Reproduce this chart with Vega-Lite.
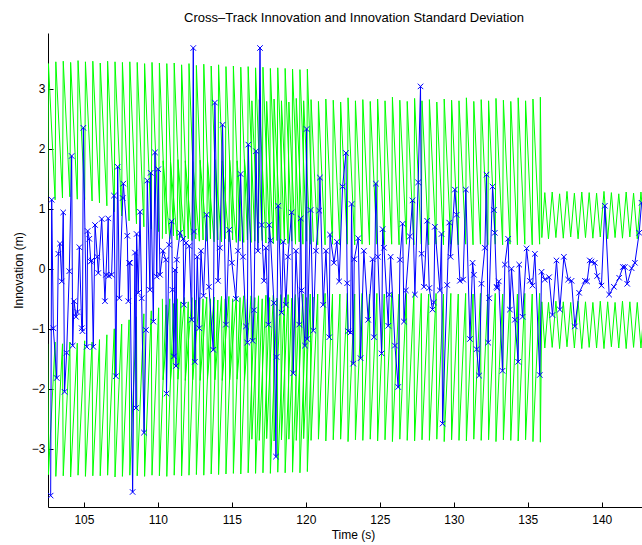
{
"$schema":"https://vega.github.io/schema/vega-lite/v6.json",
"width":594,"height":474,"autosize":"none",
"padding":{"left":48,"top":33,"right":0,"bottom":38},
"background":"white",
"title":{"text":"Cross–Track Innovation and Innovation Standard Deviation","font":"Liberation Sans","fontSize":13,"fontWeight":"normal","color":"black","anchor":"middle","frame":"group","baseline":"alphabetic","offset":11,"dx":9,"dy":13},
"config":{"view":{"stroke":null},"axis":{"grid":false,"domainColor":"black","tickColor":"black","labelColor":"black","titleColor":"black","labelFont":"Liberation Sans","titleFont":"Liberation Sans","labelFontSize":12,"titleFontSize":12,"titleFontWeight":"normal","tickSize":-5,"domainWidth":1,"tickWidth":1}},
"datasets":{
"g":[
{"t":102.55,"s":"A","u":1.2,"l":-1.25},{"t":102.6,"s":"A","u":3.42,"l":-3.43},
{"t":103.05,"s":"A","u":1.15,"l":-1.22},{"t":103.1,"s":"A","u":3.45,"l":-3.46},
{"t":103.55,"s":"A","u":1.18,"l":-1.25},{"t":103.6,"s":"A","u":3.46,"l":-3.45},
{"t":104.05,"s":"A","u":1.2,"l":-1.22},{"t":104.1,"s":"A","u":3.44,"l":-3.47},
{"t":104.55,"s":"A","u":1.16,"l":-1.24},{"t":104.6,"s":"A","u":3.47,"l":-3.44},
{"t":105.05,"s":"A","u":1.15,"l":-1.2},{"t":105.1,"s":"A","u":3.45,"l":-3.46},
{"t":105.55,"s":"A","u":1.13,"l":-1.22},{"t":105.6,"s":"A","u":3.46,"l":-3.45},
{"t":106.05,"s":"A","u":1.1,"l":-1.18},{"t":106.1,"s":"A","u":3.43,"l":-3.45},
{"t":106.55,"s":"A","u":1.05,"l":-1.1},{"t":106.6,"s":"A","u":3.46,"l":-3.44},
{"t":107.05,"s":"A","u":0.95,"l":-1.0},{"t":107.1,"s":"A","u":3.45,"l":-3.47},
{"t":107.55,"s":"A","u":0.88,"l":-0.92},{"t":107.6,"s":"A","u":3.44,"l":-3.46},
{"t":108.05,"s":"A","u":0.8,"l":-0.85},{"t":108.1,"s":"A","u":3.45,"l":-3.44},
{"t":108.55,"s":"A","u":0.75,"l":-0.8},{"t":108.6,"s":"A","u":3.44,"l":-3.45},
{"t":109.05,"s":"A","u":0.7,"l":-0.75},{"t":109.1,"s":"A","u":3.42,"l":-3.46},
{"t":109.55,"s":"A","u":0.66,"l":-0.7},{"t":109.6,"s":"A","u":3.44,"l":-3.44},
{"t":110.05,"s":"A","u":0.62,"l":-0.65},{"t":110.1,"s":"A","u":3.43,"l":-3.45},
{"t":110.55,"s":"A","u":0.58,"l":-0.6},{"t":110.6,"s":"A","u":3.42,"l":-3.46},
{"t":111.05,"s":"A","u":0.55,"l":-0.58},{"t":111.1,"s":"A","u":3.43,"l":-3.44},
{"t":111.55,"s":"A","u":0.52,"l":-0.55},{"t":111.6,"s":"A","u":3.4,"l":-3.45},
{"t":112.05,"s":"A","u":0.5,"l":-0.55},{"t":112.1,"s":"A","u":3.42,"l":-3.44},
{"t":112.55,"s":"A","u":0.5,"l":-0.52},{"t":112.6,"s":"A","u":3.39,"l":-3.43},
{"t":113.05,"s":"A","u":0.48,"l":-0.5},{"t":113.1,"s":"A","u":3.41,"l":-3.44},
{"t":113.55,"s":"A","u":0.5,"l":-0.5},{"t":113.6,"s":"A","u":3.38,"l":-3.42},
{"t":114.05,"s":"A","u":0.48,"l":-0.52},{"t":114.1,"s":"A","u":3.4,"l":-3.43},
{"t":114.55,"s":"A","u":0.5,"l":-0.5},{"t":114.6,"s":"A","u":3.37,"l":-3.42},
{"t":115.05,"s":"A","u":0.48,"l":-0.5},{"t":115.1,"s":"A","u":3.38,"l":-3.41},
{"t":115.55,"s":"A","u":0.46,"l":-0.48},{"t":115.6,"s":"A","u":3.36,"l":-3.42},
{"t":116.05,"s":"A","u":0.48,"l":-0.5},{"t":116.1,"s":"A","u":3.37,"l":-3.4},
{"t":116.55,"s":"A","u":0.46,"l":-0.48},{"t":116.6,"s":"A","u":3.35,"l":-3.41},
{"t":117.05,"s":"A","u":0.47,"l":-0.5},{"t":117.1,"s":"A","u":3.36,"l":-3.4},
{"t":117.55,"s":"A","u":0.45,"l":-0.48},{"t":117.6,"s":"A","u":3.34,"l":-3.41},
{"t":118.05,"s":"A","u":0.47,"l":-0.49},{"t":118.1,"s":"A","u":3.35,"l":-3.39},
{"t":118.55,"s":"A","u":0.45,"l":-0.48},{"t":118.6,"s":"A","u":3.34,"l":-3.4},
{"t":119.05,"s":"A","u":0.46,"l":-0.49},{"t":119.1,"s":"A","u":3.33,"l":-3.39},
{"t":119.55,"s":"A","u":0.45,"l":-0.48},{"t":119.6,"s":"A","u":3.32,"l":-3.4},
{"t":120.05,"s":"A","u":0.46,"l":-0.48},{"t":120.1,"s":"A","u":3.33,"l":-3.38},
{"t":120.5,"s":"A","u":0.45,"l":-0.47},
{"t":110.3,"s":"B","u":0.5,"l":-0.5},{"t":110.35,"s":"B","u":1.8,"l":-1.85},
{"t":110.8,"s":"B","u":0.5,"l":-0.5},{"t":110.85,"s":"B","u":1.78,"l":-1.86},
{"t":111.3,"s":"B","u":0.48,"l":-0.5},{"t":111.35,"s":"B","u":1.82,"l":-1.84},
{"t":111.8,"s":"B","u":0.48,"l":-0.48},{"t":111.85,"s":"B","u":1.8,"l":-1.86},
{"t":112.3,"s":"B","u":0.47,"l":-0.48},{"t":112.35,"s":"B","u":1.79,"l":-1.85},
{"t":112.8,"s":"B","u":0.46,"l":-0.48},{"t":112.85,"s":"B","u":1.81,"l":-1.86},
{"t":113.3,"s":"B","u":0.46,"l":-0.47},{"t":113.35,"s":"B","u":1.8,"l":-1.84},
{"t":113.8,"s":"B","u":0.45,"l":-0.47},{"t":113.85,"s":"B","u":1.82,"l":-1.85},
{"t":114.3,"s":"B","u":0.45,"l":-0.46},{"t":114.35,"s":"B","u":1.8,"l":-1.86},
{"t":114.8,"s":"B","u":0.45,"l":-0.46},{"t":114.85,"s":"B","u":1.81,"l":-1.85},
{"t":115.3,"s":"B","u":0.44,"l":-0.46},{"t":115.35,"s":"B","u":1.8,"l":-1.84},
{"t":115.8,"s":"B","u":0.44,"l":-0.45},{"t":115.85,"s":"B","u":1.82,"l":-1.86},
{"t":116.3,"s":"B","u":0.44,"l":-0.45},{"t":116.35,"s":"B","u":2.8,"l":-2.84},
{"t":116.8,"s":"B","u":0.43,"l":-0.45},{"t":116.85,"s":"B","u":2.82,"l":-2.86},
{"t":117.3,"s":"B","u":0.43,"l":-0.44},{"t":117.35,"s":"B","u":2.79,"l":-2.83},
{"t":117.8,"s":"B","u":0.42,"l":-0.44},{"t":117.85,"s":"B","u":2.83,"l":-2.87},
{"t":118.3,"s":"B","u":0.42,"l":-0.43},{"t":118.35,"s":"B","u":2.8,"l":-2.85},
{"t":118.8,"s":"B","u":0.42,"l":-0.43},{"t":118.85,"s":"B","u":2.78,"l":-2.84},
{"t":119.3,"s":"B","u":0.41,"l":-0.43},{"t":119.35,"s":"B","u":2.84,"l":-2.86},
{"t":119.8,"s":"B","u":0.41,"l":-0.42},{"t":119.85,"s":"B","u":2.8,"l":-2.83},
{"t":120.3,"s":"B","u":0.41,"l":-0.42},{"t":120.35,"s":"B","u":2.82,"l":-2.86},
{"t":120.8,"s":"B","u":0.4,"l":-0.42},{"t":120.85,"s":"B","u":2.79,"l":-2.84},
{"t":121.3,"s":"B","u":0.4,"l":-0.41},{"t":121.35,"s":"B","u":2.83,"l":-2.87},
{"t":121.8,"s":"B","u":0.41,"l":-0.42},{"t":121.85,"s":"B","u":2.81,"l":-2.85},
{"t":122.3,"s":"B","u":0.4,"l":-0.42},{"t":122.35,"s":"B","u":2.78,"l":-2.84},
{"t":122.8,"s":"B","u":0.41,"l":-0.41},{"t":122.85,"s":"B","u":2.85,"l":-2.88},
{"t":123.3,"s":"B","u":0.4,"l":-0.42},{"t":123.35,"s":"B","u":2.8,"l":-2.85},
{"t":123.8,"s":"B","u":0.41,"l":-0.41},{"t":123.85,"s":"B","u":2.82,"l":-2.86},
{"t":124.3,"s":"B","u":0.4,"l":-0.42},{"t":124.35,"s":"B","u":2.79,"l":-2.84},
{"t":124.8,"s":"B","u":0.41,"l":-0.41},{"t":124.85,"s":"B","u":2.83,"l":-2.87},
{"t":125.3,"s":"B","u":0.4,"l":-0.42},{"t":125.35,"s":"B","u":2.8,"l":-2.85},
{"t":125.8,"s":"B","u":0.41,"l":-0.41},{"t":125.85,"s":"B","u":2.86,"l":-2.88},
{"t":126.3,"s":"B","u":0.4,"l":-0.42},{"t":126.35,"s":"B","u":2.81,"l":-2.84},
{"t":126.8,"s":"B","u":0.41,"l":-0.41},{"t":126.85,"s":"B","u":2.79,"l":-2.86},
{"t":127.3,"s":"B","u":0.4,"l":-0.42},{"t":127.35,"s":"B","u":2.84,"l":-2.87},
{"t":127.8,"s":"B","u":0.41,"l":-0.41},{"t":127.85,"s":"B","u":2.8,"l":-2.85},
{"t":128.3,"s":"B","u":0.4,"l":-0.42},{"t":128.35,"s":"B","u":2.82,"l":-2.86},
{"t":128.8,"s":"B","u":0.41,"l":-0.41},{"t":128.85,"s":"B","u":2.78,"l":-2.84},
{"t":129.3,"s":"B","u":0.4,"l":-0.42},{"t":129.35,"s":"B","u":2.83,"l":-2.88},
{"t":129.8,"s":"B","u":0.41,"l":-0.41},{"t":129.85,"s":"B","u":2.81,"l":-2.85},
{"t":130.3,"s":"B","u":0.4,"l":-0.42},{"t":130.35,"s":"B","u":2.8,"l":-2.86},
{"t":130.8,"s":"B","u":0.41,"l":-0.41},{"t":130.85,"s":"B","u":2.85,"l":-2.87},
{"t":131.3,"s":"B","u":0.4,"l":-0.42},{"t":131.35,"s":"B","u":2.79,"l":-2.84},
{"t":131.8,"s":"B","u":0.41,"l":-0.41},{"t":131.85,"s":"B","u":2.82,"l":-2.86},
{"t":132.3,"s":"B","u":0.4,"l":-0.42},{"t":132.35,"s":"B","u":2.8,"l":-2.85},
{"t":132.8,"s":"B","u":0.41,"l":-0.41},{"t":132.85,"s":"B","u":2.84,"l":-2.88},
{"t":133.3,"s":"B","u":0.4,"l":-0.42},{"t":133.35,"s":"B","u":2.81,"l":-2.85},
{"t":133.8,"s":"B","u":0.41,"l":-0.41},{"t":133.85,"s":"B","u":2.79,"l":-2.86},
{"t":134.3,"s":"B","u":0.4,"l":-0.42},{"t":134.35,"s":"B","u":2.85,"l":-2.87},
{"t":134.8,"s":"B","u":0.41,"l":-0.41},{"t":134.85,"s":"B","u":2.8,"l":-2.85},
{"t":135.3,"s":"B","u":0.4,"l":-0.42},{"t":135.35,"s":"B","u":2.83,"l":-2.88},
{"t":135.8,"s":"B","u":0.41,"l":-0.41},{"t":135.85,"s":"B","u":2.86,"l":-2.89},
{"t":135.95,"s":"B","u":0.52,"l":-0.55},{"t":136.15,"s":"B","u":1.27,"l":-1.32},
{"t":136.4,"s":"B","u":0.5,"l":-0.56},{"t":136.65,"s":"B","u":1.28,"l":-1.31},
{"t":136.9,"s":"B","u":0.52,"l":-0.54},{"t":137.15,"s":"B","u":1.25,"l":-1.33},
{"t":137.4,"s":"B","u":0.51,"l":-0.55},{"t":137.65,"s":"B","u":1.29,"l":-1.3},
{"t":137.9,"s":"B","u":0.53,"l":-0.56},{"t":138.15,"s":"B","u":1.26,"l":-1.32},
{"t":138.4,"s":"B","u":0.5,"l":-0.54},{"t":138.65,"s":"B","u":1.28,"l":-1.33},
{"t":138.9,"s":"B","u":0.52,"l":-0.55},{"t":139.15,"s":"B","u":1.27,"l":-1.31},
{"t":139.4,"s":"B","u":0.51,"l":-0.56},{"t":139.65,"s":"B","u":1.26,"l":-1.32},
{"t":139.9,"s":"B","u":0.53,"l":-0.54},{"t":140.15,"s":"B","u":1.29,"l":-1.33},
{"t":140.4,"s":"B","u":0.5,"l":-0.55},{"t":140.65,"s":"B","u":1.27,"l":-1.3},
{"t":140.9,"s":"B","u":0.52,"l":-0.56},{"t":141.15,"s":"B","u":1.25,"l":-1.32},
{"t":141.4,"s":"B","u":0.51,"l":-0.54},{"t":141.65,"s":"B","u":1.28,"l":-1.33},
{"t":141.9,"s":"B","u":0.53,"l":-0.55},{"t":142.15,"s":"B","u":1.26,"l":-1.31},
{"t":142.4,"s":"B","u":0.5,"l":-0.56},{"t":142.65,"s":"B","u":1.28,"l":-1.32},
{"t":142.9,"s":"B","u":0.52,"l":-0.55}
],
"b":[
{"t":102.75,"v":-3.78},{"t":102.82,"v":1.15},{"t":102.93,"v":-0.99},{"t":103.16,"v":-1.82},{"t":103.27,"v":0.25},{"t":103.38,"v":0.42},{"t":103.5,"v":-0.21},{"t":103.6,"v":0.94},{"t":103.69,"v":-2.05},{"t":103.83,"v":-1.4},{"t":104.01,"v":-0.04},{"t":104.17,"v":1.88},{"t":104.24,"v":-1.28},{"t":104.33,"v":-0.54},{"t":104.46,"v":-0.8},{"t":104.56,"v":-0.72},{"t":104.69,"v":0.36},{"t":104.85,"v":-0.99},{"t":104.9,"v":-1.04},{"t":104.96,"v":2.35},{"t":105.19,"v":-1.3},{"t":105.25,"v":0.63},{"t":105.36,"v":0.5},{"t":105.46,"v":0.12},{"t":105.52,"v":0.14},{"t":105.63,"v":-1.3},{"t":105.75,"v":0.73},{"t":105.9,"v":0.2},{"t":105.97,"v":-0.07},{"t":106.2,"v":0.83},{"t":106.42,"v":-0.54},{"t":106.49,"v":-0.1},{"t":106.64,"v":0.84},{"t":106.68,"v":-0.12},{"t":106.87,"v":-0.1},{"t":107.03,"v":1.22},{"t":107.16,"v":-1.79},{"t":107.28,"v":1.7},{"t":107.39,"v":-0.49},{"t":107.62,"v":1.18},{"t":107.66,"v":1.42},{"t":107.93,"v":0.55},{"t":108.0,"v":-0.54},{"t":108.06,"v":0.1},{"t":108.11,"v":0.1},{"t":108.29,"v":-3.72},{"t":108.45,"v":0.27},{"t":108.52,"v":-2.32},{"t":108.56,"v":0.58},{"t":108.67,"v":-0.4},{"t":108.79,"v":0.95},{"t":108.9,"v":-0.49},{"t":109.06,"v":-2.73},{"t":109.19,"v":-1.02},{"t":109.28,"v":1.47},{"t":109.46,"v":-0.35},{"t":109.51,"v":1.6},{"t":109.69,"v":-0.88},{"t":109.8,"v":1.94},{"t":109.92,"v":-0.13},{"t":110.02,"v":1.66},{"t":110.14,"v":-0.1},{"t":110.34,"v":0.3},{"t":110.54,"v":0.15},{"t":110.58,"v":-2.08},{"t":110.75,"v":0.4},{"t":110.93,"v":0.79},{"t":110.98,"v":-0.35},{"t":111.08,"v":-1.46},{"t":111.15,"v":-0.02},{"t":111.22,"v":-1.62},{"t":111.27,"v":0.15},{"t":111.49,"v":0.6},{"t":111.71,"v":0.5},{"t":111.75,"v":-0.6},{"t":111.9,"v":0.43},{"t":112.12,"v":0.38},{"t":112.28,"v":-0.85},{"t":112.39,"v":3.68},{"t":112.44,"v":0.62},{"t":112.5,"v":-1.55},{"t":112.66,"v":0.2},{"t":112.79,"v":-0.99},{"t":112.91,"v":0.3},{"t":113.08,"v":-0.45},{"t":113.29,"v":0.9},{"t":113.45,"v":-0.3},{"t":113.74,"v":-1.35},{"t":113.85,"v":2.77},{"t":114.06,"v":-0.2},{"t":114.19,"v":0.35},{"t":114.37,"v":2.4},{"t":114.6,"v":-0.93},{"t":114.82,"v":0.65},{"t":115.0,"v":0.1},{"t":115.27,"v":-0.5},{"t":115.41,"v":0.3},{"t":115.59,"v":1.58},{"t":115.75,"v":0.2},{"t":115.95,"v":-0.96},{"t":116.04,"v":-1.23},{"t":116.11,"v":2.07},{"t":116.4,"v":-1.2},{"t":116.49,"v":-0.69},{"t":116.63,"v":1.96},{"t":116.76,"v":0.3},{"t":116.9,"v":3.68},{"t":117.01,"v":0.73},{"t":117.17,"v":-0.2},{"t":117.3,"v":0.35},{"t":117.46,"v":-0.93},{"t":117.52,"v":0.73},{"t":117.62,"v":0.47},{"t":117.84,"v":-0.57},{"t":117.98,"v":-3.13},{"t":118.02,"v":-1.47},{"t":118.13,"v":1.05},{"t":118.36,"v":-0.73},{"t":118.47,"v":0.45},{"t":118.65,"v":-0.6},{"t":118.79,"v":0.2},{"t":119.04,"v":0.94},{"t":119.15,"v":-1.74},{"t":119.33,"v":0.3},{"t":119.55,"v":-0.93},{"t":119.65,"v":0.84},{"t":119.71,"v":-0.36},{"t":119.94,"v":-1.28},{"t":120.05,"v":2.33},{"t":120.09,"v":-1.17},{"t":120.32,"v":0.98},{"t":120.5,"v":-1.03},{"t":120.68,"v":0.3},{"t":120.9,"v":0.97},{"t":120.95,"v":1.52},{"t":121.17,"v":-0.6},{"t":121.36,"v":0.3},{"t":121.58,"v":-1.14},{"t":121.63,"v":0.57},{"t":121.9,"v":0.1},{"t":122.1,"v":0.45},{"t":122.25,"v":-0.21},{"t":122.48,"v":1.37},{"t":122.71,"v":1.93},{"t":122.79,"v":-0.24},{"t":122.86,"v":-1.04},{"t":123.02,"v":-1.06},{"t":123.09,"v":1.08},{"t":123.2,"v":-1.58},{"t":123.27,"v":0.16},{"t":123.54,"v":0.51},{"t":123.7,"v":-1.49},{"t":123.92,"v":0.3},{"t":124.21,"v":-0.85},{"t":124.51,"v":0.16},{"t":124.6,"v":-1.14},{"t":124.73,"v":1.42},{"t":124.87,"v":0.2},{"t":125.12,"v":-1.41},{"t":125.19,"v":0.66},{"t":125.28,"v":0.35},{"t":125.57,"v":-0.95},{"t":125.63,"v":-0.43},{"t":125.73,"v":0.2},{"t":126.02,"v":-1.28},{"t":126.24,"v":-1.97},{"t":126.36,"v":0.15},{"t":126.54,"v":0.75},{"t":126.63,"v":-0.88},{"t":126.76,"v":-0.36},{"t":127.03,"v":0.54},{"t":127.21,"v":1.14},{"t":127.37,"v":-0.43},{"t":127.59,"v":1.44},{"t":127.75,"v":3.04},{"t":127.82,"v":0.25},{"t":127.98,"v":-0.3},{"t":128.2,"v":0.8},{"t":128.34,"v":-0.32},{"t":128.56,"v":-0.68},{"t":128.65,"v":-0.56},{"t":128.72,"v":0.7},{"t":129.06,"v":-0.36},{"t":129.17,"v":0.58},{"t":129.24,"v":-2.58},{"t":129.55,"v":-0.27},{"t":129.69,"v":0.77},{"t":129.78,"v":0.2},{"t":130.07,"v":1.32},{"t":130.19,"v":0.9},{"t":130.41,"v":-0.2},{"t":130.63,"v":-0.18},{"t":130.81,"v":1.32},{"t":131.09,"v":-1.17},{"t":131.27,"v":0.1},{"t":131.36,"v":-0.1},{"t":131.54,"v":-1.34},{"t":131.71,"v":-1.78},{"t":131.87,"v":-0.25},{"t":132.1,"v":0.35},{"t":132.21,"v":1.57},{"t":132.32,"v":-1.23},{"t":132.39,"v":-0.49},{"t":132.62,"v":1.37},{"t":132.71,"v":0.98},{"t":132.77,"v":0.6},{"t":132.89,"v":-0.3},{"t":132.93,"v":-0.32},{"t":133.04,"v":-0.21},{"t":133.29,"v":-1.7},{"t":133.45,"v":0.07},{"t":133.67,"v":0.5},{"t":133.79,"v":-0.68},{"t":133.9,"v":0.0},{"t":134.13,"v":-0.85},{"t":134.35,"v":-1.55},{"t":134.42,"v":0.07},{"t":134.65,"v":-0.8},{"t":134.92,"v":0.34},{"t":135.14,"v":-0.2},{"t":135.32,"v":-0.28},{"t":135.48,"v":0.25},{"t":135.81,"v":-1.77},{"t":135.93,"v":-0.05},{"t":136.15,"v":-0.18},{"t":136.44,"v":-0.14},{"t":136.67,"v":-0.77},{"t":136.94,"v":0.14},{"t":137.17,"v":-0.68},{"t":137.44,"v":0.2},{"t":137.73,"v":-0.18},{"t":137.96,"v":-0.2},{"t":138.18,"v":-0.96},{"t":138.47,"v":-0.4},{"t":138.86,"v":-0.2},{"t":139.01,"v":-0.21},{"t":139.19,"v":0.14},{"t":139.31,"v":0.12},{"t":139.53,"v":0.1},{"t":139.69,"v":-0.12},{"t":139.98,"v":-0.28},{"t":140.21,"v":1.05},{"t":140.5,"v":-0.43},{"t":140.82,"v":-0.3},{"t":141.18,"v":-0.15},{"t":141.43,"v":0.03},{"t":141.56,"v":0.03},{"t":141.72,"v":-0.25},{"t":142.02,"v":0.01},{"t":142.24,"v":0.1},{"t":142.53,"v":0.6},{"t":142.69,"v":1.1}
]},
"layer":[
{"data":{"name":"g"},"transform":[{"fold":["u","l"]}],
 "mark":{"type":"line","color":"#00ff00","strokeWidth":1,"clip":true},
 "encoding":{
  "x":{"field":"t","type":"quantitative","scale":{"domain":[102.57,142.72],"nice":false,"zero":false},"axis":{"values":[105,110,115,120,125,130,135,140],"title":"Time (s)","labelPadding":12,"titlePadding":4,"titleX":305}},
  "y":{"field":"value","type":"quantitative","scale":{"domain":[-3.97,3.93],"nice":false,"zero":false},"axis":{"values":[-3,-2,-1,0,1,2,3],"format":"d","title":"Innovation (m)","labelPadding":8,"titlePadding":6}},
  "detail":[{"field":"s"},{"field":"key"}]}},
{"data":{"name":"b"},
 "mark":{"type":"line","color":"#0000ff","strokeWidth":1,"clip":true},
 "encoding":{"x":{"field":"t","type":"quantitative"},"y":{"field":"v","type":"quantitative"}}},
{"data":{"name":"b"},
 "mark":{"type":"point","shape":"M-1,-1L1,1M-1,1L1,-1","size":30,"color":"#0000ff","filled":false,"strokeWidth":1,"opacity":1,"clip":true},
 "encoding":{"x":{"field":"t","type":"quantitative"},"y":{"field":"v","type":"quantitative"}}}
]
}
